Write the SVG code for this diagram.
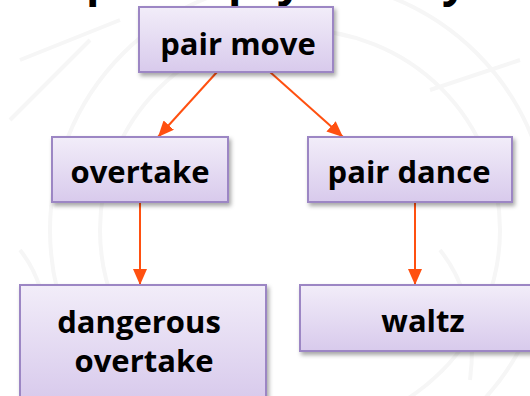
<svg xmlns="http://www.w3.org/2000/svg" width="530" height="396" viewBox="0 0 530 396">
  <defs>
    <linearGradient id="boxFill" x1="0" y1="0" x2="0" y2="1">
      <stop offset="0" stop-color="#F2EDF9"/>
      <stop offset="1" stop-color="#D8CAEC"/>
    </linearGradient>
    <filter id="shadow" x="-10%" y="-10%" width="125%" height="135%">
      <feDropShadow dx="2" dy="3" stdDeviation="2" flood-color="#000" flood-opacity="0.35"/>
    </filter>
    <marker id="arrow" markerUnits="userSpaceOnUse" markerWidth="16" markerHeight="14" refX="16" refY="7" orient="auto">
      <path d="M0,0 L16,7 L0,14 Z" fill="#FF5010"/>
    </marker>
  </defs>
  <style>
    .box { fill: url(#boxFill); stroke: #9C86C4; stroke-width: 2; filter: url(#shadow); }
    .label { font-family: "Open Sans", "Liberation Sans", sans-serif; font-weight: bold; font-size: 31px; fill: #000; text-anchor: middle; }
    .title { font-family: "Open Sans", "Liberation Sans", sans-serif; font-weight: bold; font-size: 44px; fill: #000; }
    .edge { stroke: #FF5010; stroke-width: 2; fill: none; marker-end: url(#arrow); }
    .seal { fill: none; stroke: #F6F6F6; stroke-width: 4; }
  </style>

  <rect width="530" height="396" fill="#FFFFFF"/>

  <!-- faint background seal -->
  <g id="background">
    <circle class="seal" cx="300" cy="230" r="250"/>
    <circle class="seal" cx="300" cy="230" r="200"/>
    <path class="seal" d="M20,60 L120,20 M10,120 L90,40 M430,90 L520,60 M440,250 Q480,300 470,380 M20,250 Q60,300 40,390"/>
  </g>

  <!-- heading line, mostly above the visible area -->
  <text class="title" y="-4"><tspan x="86">p</tspan><tspan x="228">p</tspan><tspan x="277">y</tspan><tspan x="442">y</tspan></text>

  <g id="connectors">
    <line class="edge" x1="217" y1="72" x2="158" y2="137"/>
    <line class="edge" x1="270" y1="72" x2="343" y2="137"/>
    <line class="edge" x1="140" y1="202" x2="140" y2="285"/>
    <line class="edge" x1="415" y1="202" x2="415" y2="285"/>
  </g>

  <g id="pair-move">
    <rect class="box" x="139" y="7" width="194" height="65"/>
    <text class="label" x="238" y="55">pair move</text>
  </g>

  <g id="overtake">
    <rect class="box" x="52" y="137" width="176" height="65"/>
    <text class="label" x="140" y="183">overtake</text>
  </g>

  <g id="pair-dance">
    <rect class="box" x="308" y="137" width="204" height="65"/>
    <text class="label" x="409" y="183">pair dance</text>
  </g>

  <g id="dangerous-overtake">
    <rect class="box" x="20" y="285" width="246" height="115"/>
    <text class="label" x="139" y="333">dangerous</text>
    <text class="label" x="144" y="372">overtake</text>
  </g>

  <g id="waltz">
    <rect class="box" x="300" y="285" width="246" height="66"/>
    <text class="label" x="423" y="332">waltz</text>
  </g>
</svg>
